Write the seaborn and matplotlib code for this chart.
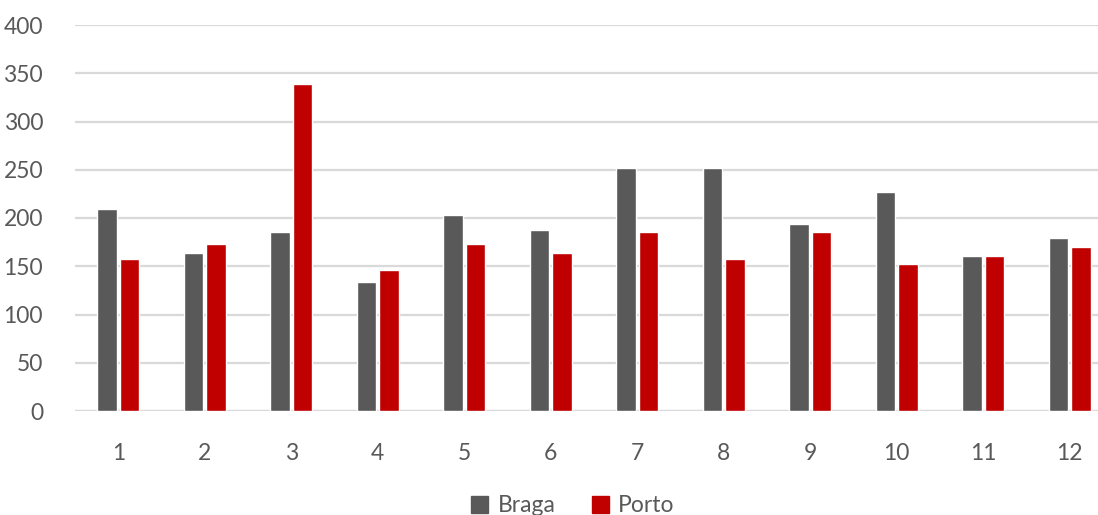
import matplotlib
matplotlib.use("Agg")
import matplotlib.pyplot as plt
import seaborn as sns
import pandas as pd

# Monthly values for the two cities
months = ["1", "2", "3", "4", "5", "6", "7", "8", "9", "10", "11", "12"]
braga = [209, 164, 185, 134, 203, 188, 252, 252, 194, 227, 161, 179]
porto = [158, 173, 339, 146, 173, 164, 185, 158, 185, 152, 161, 170]
yticks = [0, 50, 100, 150, 200, 250, 300, 350, 400]

df = pd.DataFrame({
    "month": months * 2,
    "value": braga + porto,
    "city": ["Braga"] * len(months) + ["Porto"] * len(months),
})

sns.set_theme(style="white")
plt.rcParams["font.family"] = ["Lato", "DejaVu Sans"]

text_color = "#595959"
grid_color = "#D9D9D9"
palette = {"Braga": "#595959", "Porto": "#C00000"}

fig = plt.figure(figsize=(10.98, 5.15), dpi=100)
ax = fig.add_axes([75 / 1098, 104 / 515, 1038 / 1098, 386 / 515])

sns.barplot(data=df, x="month", y="value", hue="city", order=months,
            palette=palette, width=0.52, gap=0.115, ax=ax,
            saturation=1, legend=False, zorder=3)

ax.set_ylim(0, 400)
ax.set_xlim(-0.5, len(months) - 0.5)
ax.set_yticks(yticks)
ax.yaxis.grid(True, color=grid_color, linewidth=1.6, zorder=0)
ax.set_axisbelow(True)
for s in ax.spines.values():
    s.set_visible(False)
ax.axhline(0, color=grid_color, linewidth=1.6, zorder=1)
ax.set_xlabel("")
ax.set_ylabel("")
ax.tick_params(axis="y", length=0, pad=23, labelsize=16.5, labelcolor=text_color)
ax.tick_params(axis="x", length=0, pad=23, labelsize=16.5, labelcolor=text_color)

handles = [plt.Rectangle((0, 0), 1, 1, color=palette[c]) for c in ["Braga", "Porto"]]
fig.legend(handles, ["Braga", "Porto"], loc="center", ncol=2,
           bbox_to_anchor=(573 / 1098, 9 / 515), frameon=False,
           fontsize=16.5, labelcolor=text_color, handlelength=0.75,
           handleheight=0.75, handletextpad=0.4, columnspacing=1.6)

fig.savefig("out.png", dpi=100)
